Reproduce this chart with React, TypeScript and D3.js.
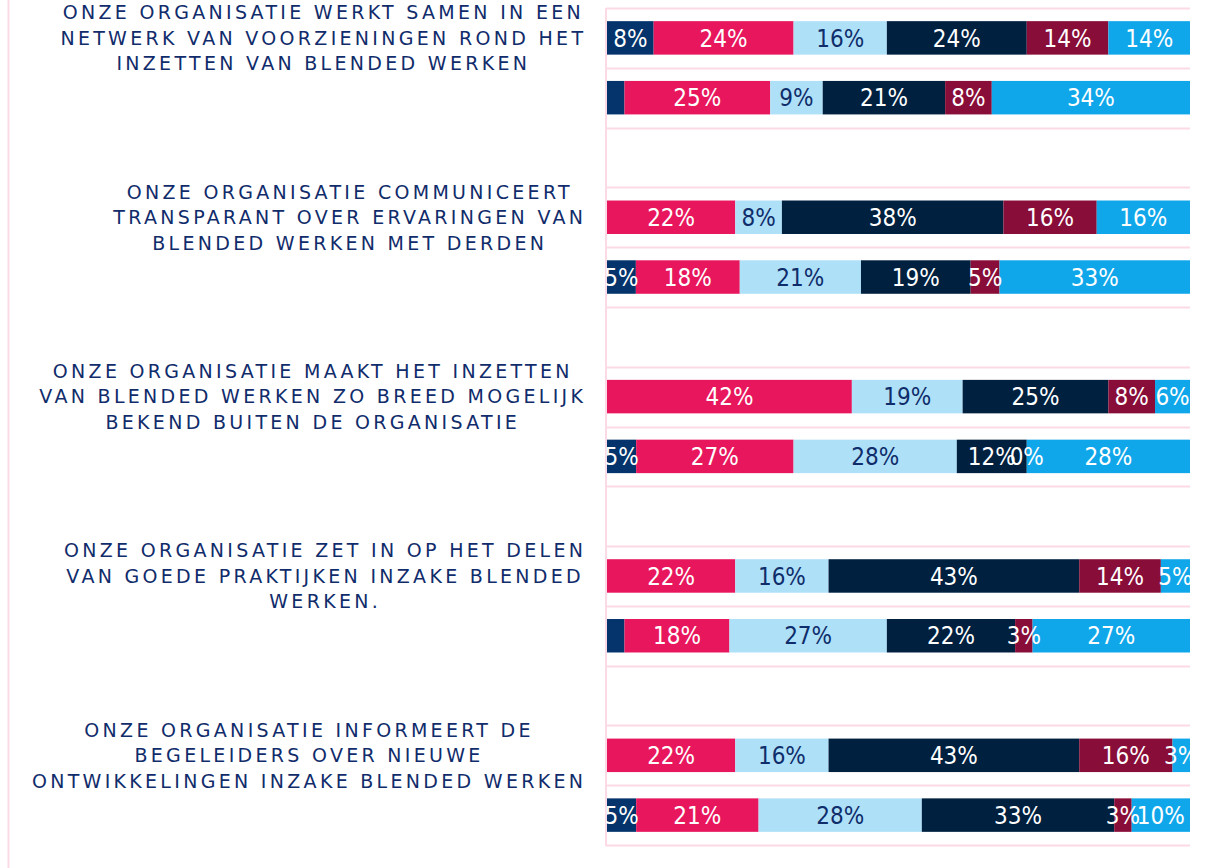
import React, { useEffect, useRef } from "react";
import * as d3 from "d3";

// ---------- DATA ----------
const categoryLines: string[][] = [
  ["ONZE ORGANISATIE WERKT SAMEN IN EEN", "NETWERK VAN VOORZIENINGEN ROND HET", "INZETTEN VAN BLENDED WERKEN"],
  ["ONZE ORGANISATIE COMMUNICEERT", "TRANSPARANT OVER ERVARINGEN VAN", "BLENDED WERKEN MET DERDEN"],
  ["ONZE ORGANISATIE MAAKT HET INZETTEN", "VAN BLENDED WERKEN ZO BREED MOGELIJK", "BEKEND BUITEN DE ORGANISATIE"],
  ["ONZE ORGANISATIE ZET IN OP HET DELEN", "VAN GOEDE PRAKTIJKEN INZAKE BLENDED", "WERKEN."],
  ["ONZE ORGANISATIE INFORMEERT DE", "BEGELEIDERS OVER NIEUWE", "ONTWIKKELINGEN INZAKE BLENDED WERKEN"],
];
// two bars per category (bar order top to bottom)
const seriesKeys = ["s1", "s2", "s3", "s4", "s5", "s6"];
const s1: (number | null)[] = [8, 3, null, 5, null, 5, null, 3, null, 5];
const s2: (number | null)[] = [24, 25, 22, 18, 42, 27, 22, 18, 22, 21];
const s3: (number | null)[] = [16, 9, 8, 21, 19, 28, 16, 27, 16, 28];
const s4: (number | null)[] = [24, 21, 38, 19, 25, 12, 43, 22, 43, 33];
const s5: (number | null)[] = [14, 8, 16, 5, 8, 0, 14, 3, 16, 3];
const s6: (number | null)[] = [14, 34, 16, 33, 6, 28, 5, 27, 3, 10];
const seriesValues = [s1, s2, s3, s4, s5, s6];
// labels not displayed in the original: [series index, bar index]
const hiddenLabels: [number, number][] = [[0, 1], [0, 7]];

const seriesColors = ["#04346B", "#E8175D", "#AEE0F8", "#00203F", "#880D38", "#10A7EA"];
const labelColors = ["#FFFFFF", "#FFFFFF", "#0E2D6A", "#FFFFFF", "#FFFFFF", "#FFFFFF"];

const W = 1215;
const H = 868;

export default function App() {
  const ref = useRef<SVGSVGElement | null>(null);

  useEffect(() => {
    const svg = d3.select(ref.current);
    svg.selectAll("*").remove();

    const plotLeft = 607;
    const plotRight = 1190;
    const plotTop = 8;
    const plotBottom = 845;
    const nSlots = categoryLines.length * 3 - 1;

    const x = d3.scaleLinear().domain([0, 1]).range([plotLeft, plotRight]);
    const slot = d3
      .scaleBand<number>()
      .domain(d3.range(nSlots))
      .range([plotTop, plotBottom])
      .paddingInner(0)
      .paddingOuter(0);
    const barH = slot.bandwidth() * 0.56;
    const barSlot = (i: number) => Math.floor(i / 2) * 3 + (i % 2);
    const barY = (i: number) => (slot(barSlot(i)) as number) + (slot.bandwidth() - barH) / 2;

    const rows = s1.map((_, i) => {
      const o: any = { index: i };
      seriesKeys.forEach((k, si) => (o[k] = seriesValues[si][i] ?? 0));
      return o;
    });
    // 100% stacked: normalise each bar to its total
    const stacked = d3.stack<any>().keys(seriesKeys).offset(d3.stackOffsetExpand)(rows);

    const pink = "#FBD9E5";

    // outer left border line
    svg
      .append("line")
      .attr("x1", 8.5)
      .attr("x2", 8.5)
      .attr("y1", 0)
      .attr("y2", H)
      .attr("stroke", pink)
      .attr("stroke-width", 2);

    // gridlines
    const gridYs = d3.range(nSlots + 1).map((k) => (k < nSlots ? (slot(k) as number) : plotBottom));
    svg
      .append("g")
      .selectAll("line")
      .data(gridYs)
      .join("line")
      .attr("x1", plotLeft - 1)
      .attr("x2", plotRight)
      .attr("y1", (d) => Math.round(d) + 0.5)
      .attr("y2", (d) => Math.round(d) + 0.5)
      .attr("stroke", pink)
      .attr("stroke-width", 2);

    // axis line
    svg
      .append("line")
      .attr("x1", plotLeft - 1)
      .attr("x2", plotLeft - 1)
      .attr("y1", plotTop)
      .attr("y2", plotBottom + 1)
      .attr("stroke", pink)
      .attr("stroke-width", 2);

    // bars
    const bars = svg.append("g");
    stacked.forEach((layer, si) => {
      bars
        .append("g")
        .attr("fill", seriesColors[si])
        .selectAll("rect")
        .data(layer.filter((d, i) => seriesValues[si][i] !== null))
        .join("rect")
        .attr("x", (d) => x(d[0]))
        .attr("width", (d) => Math.max(0, x(d[1]) - x(d[0])))
        .attr("y", (d) => barY(d.data.index))
        .attr("height", barH);
    });

    // data labels (clipped to plot area)
    svg
      .append("defs")
      .append("clipPath")
      .attr("id", "plotclip")
      .append("rect")
      .attr("x", plotLeft - 1)
      .attr("y", 0)
      .attr("width", plotRight - plotLeft + 1)
      .attr("height", H);

    const labels = svg.append("g").attr("clip-path", "url(#plotclip)");
    stacked.forEach((layer, si) => {
      const data = layer.filter(
        (d) =>
          seriesValues[si][d.data.index] !== null &&
          !hiddenLabels.some(([s, b]) => s === si && b === d.data.index)
      );
      labels
        .append("g")
        .selectAll("text")
        .data(data)
        .join("text")
        .attr("x", (d) => (x(d[0]) + x(d[1])) / 2)
        .attr("y", (d) => barY(d.data.index) + barH / 2)
        .attr("dy", "0.36em")
        .attr("text-anchor", "middle")
        .attr("fill", labelColors[si])
        .attr("font-family", "'DejaVu Sans Condensed', 'DejaVu Sans', sans-serif")
        .attr("font-stretch", "condensed")
        .attr("font-size", 24)
        .text((d) => `${seriesValues[si][d.data.index]}%`);
    });

    // category labels
    const labelRight = 583;
    const lineGap = 25.5;
    const ls = 3.3;
    categoryLines.forEach((lines, c) => {
      const cy = barY(c * 2) + barH / 2;
      const g = svg.append("g");
      const texts = g
        .selectAll("text")
        .data(lines)
        .join("text")
        .attr("y", (_, i) => cy + (i - (lines.length - 1) / 2) * lineGap)
        .attr("dy", "0.36em")
        .attr("text-anchor", "middle")
        .attr("fill", "#112C6B")
        .attr("font-family", "'DejaVu Sans', sans-serif")
        .attr("font-size", 19)
        .attr("letter-spacing", `${ls}px`)
        .text((d) => d);
      let maxW = 0;
      texts.each(function () {
        maxW = Math.max(maxW, (this as SVGTextElement).getComputedTextLength());
      });
      texts.attr("x", labelRight + ls - maxW / 2);
    });
  }, []);

  return (
    <svg
      ref={ref}
      width={W}
      height={H}
      style={{ position: "absolute", left: 0, top: 0, display: "block", background: "#fff" }}
    />
  );
}
